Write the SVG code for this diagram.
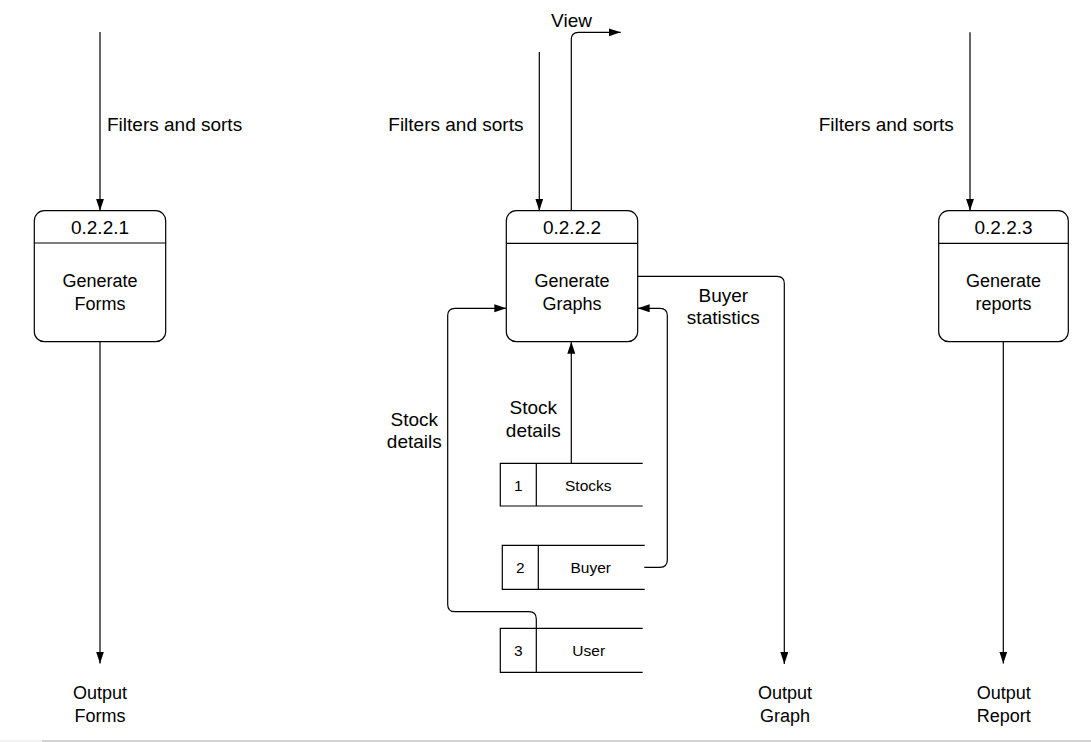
<svg xmlns="http://www.w3.org/2000/svg" width="1091" height="742" viewBox="0 0 1091 742">
<defs>
<marker id="arr" markerUnits="userSpaceOnUse" markerWidth="13" markerHeight="9" refX="12" refY="4" orient="auto">
<path d="M0,0 L12,4 L0,8 Z" fill="#000"/>
</marker>
<style>
.ln{fill:none;stroke:#000;stroke-width:1.2}
.box{fill:#fff;stroke:#000;stroke-width:1.2}
text{font-family:"Liberation Sans",Arial,sans-serif;fill:#000}
.n{font-size:18px;text-anchor:middle}
.id{font-size:19px;text-anchor:middle}
.f{font-size:19px}
.fc{font-size:19px;text-anchor:middle}
.s{font-size:15.5px;text-anchor:middle}
</style>
</defs>
<rect width="1091" height="742" fill="#fff"/>
<g id="connectors">
<path class="ln" d="M100,32 V210.7" marker-end="url(#arr)"/>
<path class="ln" d="M100,341.7 V663.5" marker-end="url(#arr)"/>
<path class="ln" d="M539.3,52 V210.7" marker-end="url(#arr)"/>
<path class="ln" d="M571.3,210.7 V39.5 Q571.3,32.3 578.5,32.3 H620.7" marker-end="url(#arr)"/>
<path class="ln" d="M637.7,276.3 H777 Q784.3,276.3 784.3,283.5 V664" marker-end="url(#arr)"/>
<path class="ln" d="M571.3,463.3 V341.7" marker-end="url(#arr)"/>
<path class="ln" d="M536.3,628.3 V619 Q536.3,611.7 529,611.7 H455 Q447.7,611.7 447.7,604.4 V315.6 Q447.7,308.3 455,308.3 H506.3" marker-end="url(#arr)"/>
<path class="ln" d="M644.3,567.3 H660 Q667.3,567.3 667.3,560 V315.6 Q667.3,308.3 660,308.3 H637.7" marker-end="url(#arr)"/>
<path class="ln" d="M970,32.3 V210.7" marker-end="url(#arr)"/>
<path class="ln" d="M1003.3,341.7 V663.5" marker-end="url(#arr)"/>
</g>
<g id="labels">
<text class="f" x="107" y="131">Filters and sorts</text>
<text class="f" x="388.3" y="131">Filters and sorts</text>
<text class="f" x="818.7" y="131">Filters and sorts</text>
<text class="fc" x="571.5" y="26.7">View</text>
<text class="fc" x="723.3" y="301.7">Buyer</text>
<text class="fc" x="723.3" y="324">statistics</text>
<text class="fc" x="533.3" y="414">Stock</text>
<text class="fc" x="533.3" y="436.7">details</text>
<text class="fc" x="414.3" y="425.7">Stock</text>
<text class="fc" x="414.3" y="448.3">details</text>
</g>
<g id="p0221">
<rect class="box" x="34.3" y="210.7" width="131.4" height="131" rx="10"/>
<line class="ln" x1="34.3" y1="243" x2="165.7" y2="243"/>
<text class="id" x="100" y="233.5">0.2.2.1</text>
<text class="n" x="100" y="287.3">Generate</text>
<text class="n" x="100" y="310">Forms</text>
</g>
<g id="p0222">
<rect class="box" x="506.3" y="210.7" width="131.4" height="131" rx="10"/>
<line class="ln" x1="506.3" y1="243.3" x2="637.7" y2="243.3"/>
<text class="id" x="572" y="233.5">0.2.2.2</text>
<text class="n" x="572" y="287.3">Generate</text>
<text class="n" x="572" y="310">Graphs</text>
</g>
<g id="p0223">
<rect class="box" x="938.7" y="210.7" width="129.6" height="131" rx="10"/>
<line class="ln" x1="938.7" y1="243.3" x2="1068.3" y2="243.3"/>
<text class="id" x="1003.5" y="233.5">0.2.2.3</text>
<text class="n" x="1003.5" y="287.3">Generate</text>
<text class="n" x="1003.5" y="310">reports</text>
</g>
<g id="ds1">
<path class="ln" d="M642.7,463.3 H500.3 V506 H642.7 M536.3,463.3 V506"/>
<text class="s" x="518.3" y="491">1</text>
<text class="s" x="588.3" y="491">Stocks</text>
</g>
<g id="ds2">
<path class="ln" d="M644.7,545.3 H502.3 V589.3 H644.7 M538.3,545.3 V589.3"/>
<text class="s" x="520.3" y="573.3">2</text>
<text class="s" x="590.7" y="573.3">Buyer</text>
</g>
<g id="ds3">
<path class="ln" d="M642.7,628.3 H500.3 V672.3 H642.7 M536.3,628.3 V672.3"/>
<text class="s" x="518.3" y="655.7">3</text>
<text class="s" x="588.7" y="655.7">User</text>
</g>
<g id="outForms">
<text class="n" x="100" y="699.3">Output</text>
<text class="n" x="100" y="721.7">Forms</text>
</g>
<g id="outGraph">
<text class="n" x="785" y="699.3">Output</text>
<text class="n" x="785" y="721.7">Graph</text>
</g>
<g id="outReport">
<text class="n" x="1003.7" y="699.3">Output</text>
<text class="n" x="1003.7" y="721.7">Report</text>
</g>
<line x1="0" y1="741" x2="42" y2="741" stroke="#ececec" stroke-width="1.5"/>
<line x1="42" y1="741" x2="1091" y2="741" stroke="#c4c4c4" stroke-width="1.5"/>
</svg>
